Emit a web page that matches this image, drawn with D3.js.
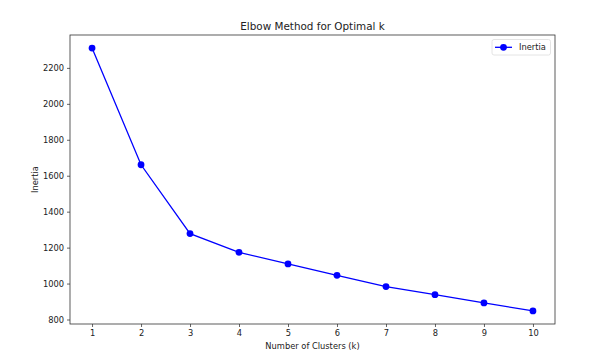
<!DOCTYPE html>
<html>
<head>
<meta charset="utf-8">
<script src="https://cdn.jsdelivr.net/npm/d3@7"></script>
<style>
body { margin: 0; background: #fff; }
text { font-family: "DejaVu Sans", sans-serif; fill: #222; }
</style>
</head>
<body>
<script>
// Data
var clusters = [1, 2, 3, 4, 5, 6, 7, 8, 9, 10];
var inertia = [2310, 1661, 1278, 1174, 1109, 1046, 983, 938, 892, 848];
var yTicks = [800, 1000, 1200, 1400, 1600, 1800, 2000, 2200];
var seriesName = 'Inertia';

// Graph dimensions
var margin = {top: 35, right: 42, bottom: 29, left: 70},
width = 597 - margin.left - margin.right,
height = 353 - margin.top - margin.bottom;

// Set ranges
var x = d3.scaleLinear().domain([0.55, 10.45]).range([0, width]);
var y = d3.scaleLinear().domain([775, 2383]).range([height, 0]);

var data = clusters.map(function(k, i) { return {k: k, v: inertia[i]}; });

var svg = d3.select('body')
    .append('svg')
    .attr('width', 597)
    .attr('height', 353);

var chart = svg.append('g')
    .attr('transform', 'translate(' + margin.left + ',' + margin.top + ')');

// Axes
var xAxis = d3.axisBottom(x).tickValues(clusters).tickFormat(d3.format('d')).tickSize(3).tickPadding(3);
var yAxis = d3.axisLeft(y).tickValues(yTicks).tickFormat(d3.format('d')).tickSize(3).tickPadding(3);

chart.append('g')
    .attr('transform', 'translate(0,' + height + ')')
    .call(xAxis);
chart.append('g')
    .call(yAxis);

chart.selectAll('.tick text').style('font-size', '8.3px').style('fill', '#222');
chart.selectAll('.tick line').attr('stroke', '#222').attr('stroke-width', 0.7);
chart.selectAll('.domain').remove();

// Frame
chart.append('rect')
    .attr('width', width)
    .attr('height', height)
    .attr('fill', 'none')
    .attr('stroke', '#333')
    .attr('stroke-width', 0.8);

// Line
var line = d3.line()
    .x(function(d) { return x(d.k); })
    .y(function(d) { return y(d.v); });

chart.append('path')
    .datum(data)
    .attr('fill', 'none')
    .attr('stroke', '#0000ff')
    .attr('stroke-width', 1.3)
    .attr('d', line);

chart.selectAll('.dot')
    .data(data)
    .enter().append('circle')
    .attr('class', 'dot')
    .attr('cx', function(d) { return x(d.k); })
    .attr('cy', function(d) { return y(d.v); })
    .attr('r', 3.4)
    .attr('fill', '#0000ff');

// Title and labels
svg.append('text')
    .attr('x', margin.left + width / 2)
    .attr('y', 30)
    .attr('text-anchor', 'middle')
    .style('font-size', '10.4px')
    .text('Elbow Method for Optimal k');

svg.append('text')
    .attr('x', margin.left + width / 2)
    .attr('y', 349)
    .attr('text-anchor', 'middle')
    .style('font-size', '8.3px')
    .text('Number of Clusters (k)');

svg.append('text')
    .attr('transform', 'translate(38,' + (margin.top + height / 2) + ') rotate(-90)')
    .attr('text-anchor', 'middle')
    .style('font-size', '8.3px')
    .text('Inertia');

// Legend
var legend = svg.append('g').attr('transform', 'translate(492,39.5)');
legend.append('rect')
    .attr('width', 58.5)
    .attr('height', 15.5)
    .attr('rx', 2)
    .attr('fill', '#fff')
    .attr('stroke', '#ddd')
    .attr('stroke-width', 0.8);
legend.append('line')
    .attr('x1', 3).attr('x2', 20)
    .attr('y1', 7.8).attr('y2', 7.8)
    .attr('stroke', '#0000ff')
    .attr('stroke-width', 1.3);
legend.append('circle')
    .attr('cx', 11.5).attr('cy', 7.8).attr('r', 3.4)
    .attr('fill', '#0000ff');
legend.append('text')
    .attr('x', 27)
    .attr('y', 10.8)
    .style('font-size', '8.3px')
    .text(seriesName);
</script>
</body>
</html>
